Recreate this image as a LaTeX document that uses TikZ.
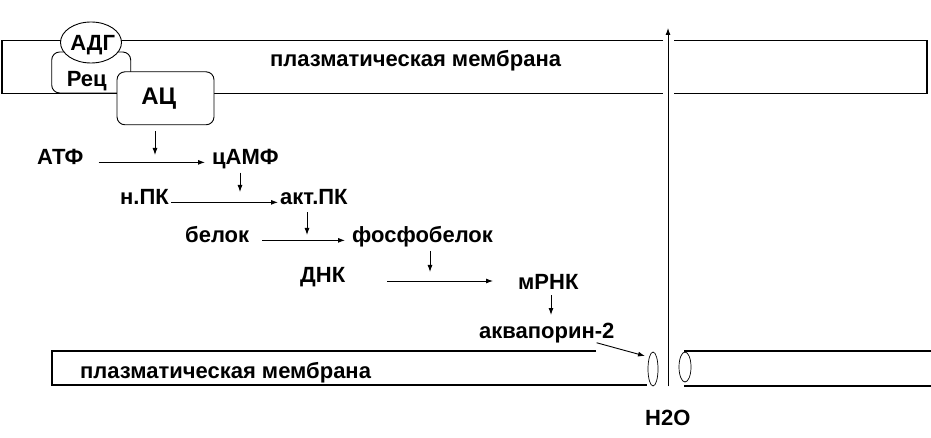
\documentclass[tikz,border=0pt]{standalone}
\usepackage{fontspec}
\setmainfont{Liberation Sans}
\usetikzlibrary{arrows.meta,shapes.geometric}
\begin{document}
\begin{tikzpicture}[x=1pt,y=-1pt,
  txt/.style={inner sep=0pt,font=\bfseries\fontsize{22}{26}\selectfont},
  arr/.style={-{Latex[length=7pt,width=5pt]},line width=0.9pt},
  memb/.style={line width=1.5pt},
  box/.style={draw,fill=white,rounded corners=8pt,line width=0.9pt,inner sep=0pt},
  pore/.style={draw,ellipse,inner sep=0pt,line width=0.7pt}]
\useasboundingbox (0,0) rectangle (931,438);
\coordinate (m1) at (155,155);
\coordinate (m2) at (240,192);
\coordinate (m3) at (307,235);
\coordinate (m4) at (430,272);
\coordinate (m5) at (551,315);
\coordinate (d1) at (387,281);
\coordinate (d2) at (493,281);
\coordinate (aqtip) at (645,356);
\coordinate (top) at (668,28);
\draw[memb] (663,40.5) -- (2,40.5) -- (2,93.5) -- (663,93.5);
\draw[memb] (674,40.5) -- (927,40.5) -- (927,93.5) -- (674,93.5);
\draw[memb] (596,351) -- (52,351) -- (52,385) -- (647,385);
\draw[memb] (684,351) -- (931,351);
\draw[memb] (684,386) -- (931,386);
\node[txt,anchor=base west] (pm1) at (270,67) {плазматическая мембрана};
\node[txt,anchor=base west] (pm2) at (80,378) {плазматическая мембрана};
\node[box,minimum width=79pt,minimum height=41pt] (rec) at (91.2,72.5) {};
\node[txt,anchor=base] at (86.7,86.5) {Рец};
\node[pore,fill=white,line width=0.9pt,minimum width=61pt,minimum height=41pt] (adg) at (91,42.5) {};
\node[txt,anchor=base] at (92.7,51) {АДГ};
\node[box,minimum width=97pt,minimum height=53pt] (ac) at (165.5,98.3) {};
\node[txt,anchor=base,font=\bfseries\fontsize{24}{28}\selectfont] at (158.7,105) {АЦ};
\node[txt,anchor=base west] (atf) at (37,165) {АТФ};
\node[txt,anchor=base west] (camp) at (212,165) {цАМФ};
\node[txt,anchor=base west] (npk) at (120,205) {н.ПК};
\node[txt,anchor=base west] (apk) at (280,205) {акт.ПК};
\node[txt,anchor=base west] (bel) at (185,243) {белок};
\node[txt,anchor=base west] (fbel) at (352,243) {фосфобелок};
\node[txt,anchor=base west] (dnk) at (300,283) {ДНК};
\node[txt,anchor=base west] (mrnk) at (518,289) {мРНК};
\node[txt,anchor=base west] (aqp) at (479,338) {аквапорин-2};
\node[txt,anchor=base west] (h2o) at (645,425) {H2O};
\node[pore,minimum width=10pt,minimum height=34pt] (aq1) at (653,369) {};
\node[pore,minimum width=12pt,minimum height=30pt] (aq2) at (685,367) {};
\draw[arr,shorten <=15pt,shorten >=7pt] (atf.mid east) -- (camp.mid west);
\draw[arr,shorten <=2pt,shorten >=2pt] (npk.mid east) -- (apk.mid west);
\draw[arr,shorten <=13pt,shorten >=7pt] (bel.mid east) -- (fbel.mid west);
\draw[arr] (d1) -- (d2);
\draw[arr,shorten <=6pt] (ac.south -| m1) -- (m1);
\draw[arr,shorten <=3pt] (camp.south -| m2) -- (m2);
\draw[arr,shorten <=7pt] (apk.south -| m3) -- (m3);
\draw[arr,shorten <=3pt] (fbel.south -| m4) -- (m4);
\draw[arr,shorten <=6pt] (mrnk.south -| m5) -- (m5);
\draw[arr] ([xshift=-18pt]aqp.south east) -- (aqtip);
\draw[arr,shorten <=23pt] (h2o.north -| top) -- (top);
\end{tikzpicture}
\end{document}
